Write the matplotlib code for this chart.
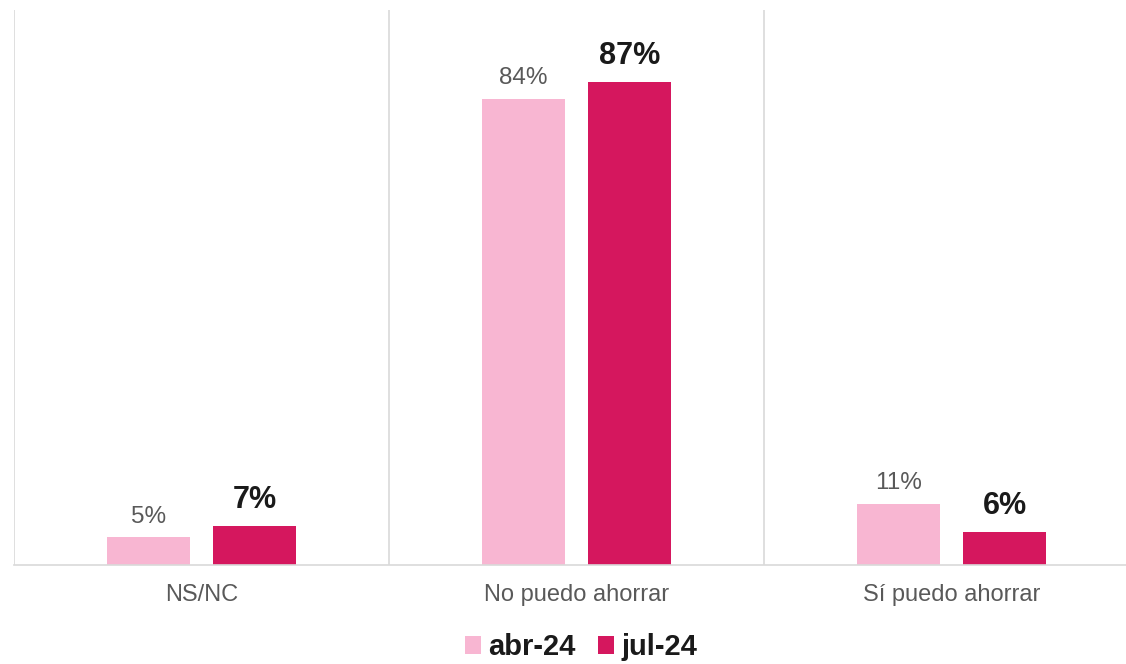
import matplotlib.pyplot as plt
import numpy as np

plt.rcParams['font.family'] = ['Liberation Sans', 'DejaVu Sans']

# data
categories = ["NS/NC", "No puedo ahorrar", "Sí puedo ahorrar"]
series_names = ["abr-24", "jul-24"]
abr_24 = [5, 84, 11]
jul_24 = [7, 87, 6]

pink = "#F8B6D2"
magenta = "#D5175E"
grid_col = "#D9D9D9"

fig = plt.figure(figsize=(11.26, 6.64), dpi=100)
ax = fig.add_axes([14 / 1126, 1 - 565 / 664, 1125 / 1126, 555 / 664])

x = np.arange(len(categories))
w = 0.222
off = 0.142
bars1 = ax.bar(x - off, abr_24, w, color=pink, label=series_names[0])
bars2 = ax.bar(x + off, jul_24, w, color=magenta, label=series_names[1])

# value labels
for b, v in zip(bars1, abr_24):
    ax.annotate(f"{v}%", (b.get_x() + b.get_width() / 2, b.get_height()),
                xytext=(0, 7), textcoords="offset points", ha="center", va="bottom",
                fontsize=17.5, color="#595959")
for b, v in zip(bars2, jul_24):
    ax.annotate(f"{v}%", (b.get_x() + b.get_width() / 2, b.get_height()),
                xytext=(0, 8), textcoords="offset points", ha="center", va="bottom",
                fontsize=22, fontweight="bold", color="#1A1A1A")

ax.set_xlim(-0.5, len(categories) - 0.5)
ax.set_ylim(0, 100)

# vertical separators between categories
for xv in np.arange(-0.5, len(categories), 1.0):
    ax.axvline(xv, color=grid_col, lw=1.2, zorder=0)

for s in ["top", "right", "left"]:
    ax.spines[s].set_visible(False)
ax.spines["bottom"].set_color(grid_col)
ax.spines["bottom"].set_linewidth(1.2)

ax.set_yticks([])
ax.set_xticks(x)
ax.set_xticklabels(categories, fontsize=17, color="#595959")
ax.tick_params(axis="x", length=0, pad=14)

fig.legend(handles=[bars1, bars2], labels=series_names, loc="center",
           bbox_to_anchor=(0.516, 0.025), ncol=2, frameon=False,
           prop={"size": 21, "weight": "bold"}, labelcolor="#1A1A1A",
           handlelength=0.55, handleheight=0.55, handletextpad=0.25,
           columnspacing=0.75)

fig.savefig("out.png", dpi=100)
